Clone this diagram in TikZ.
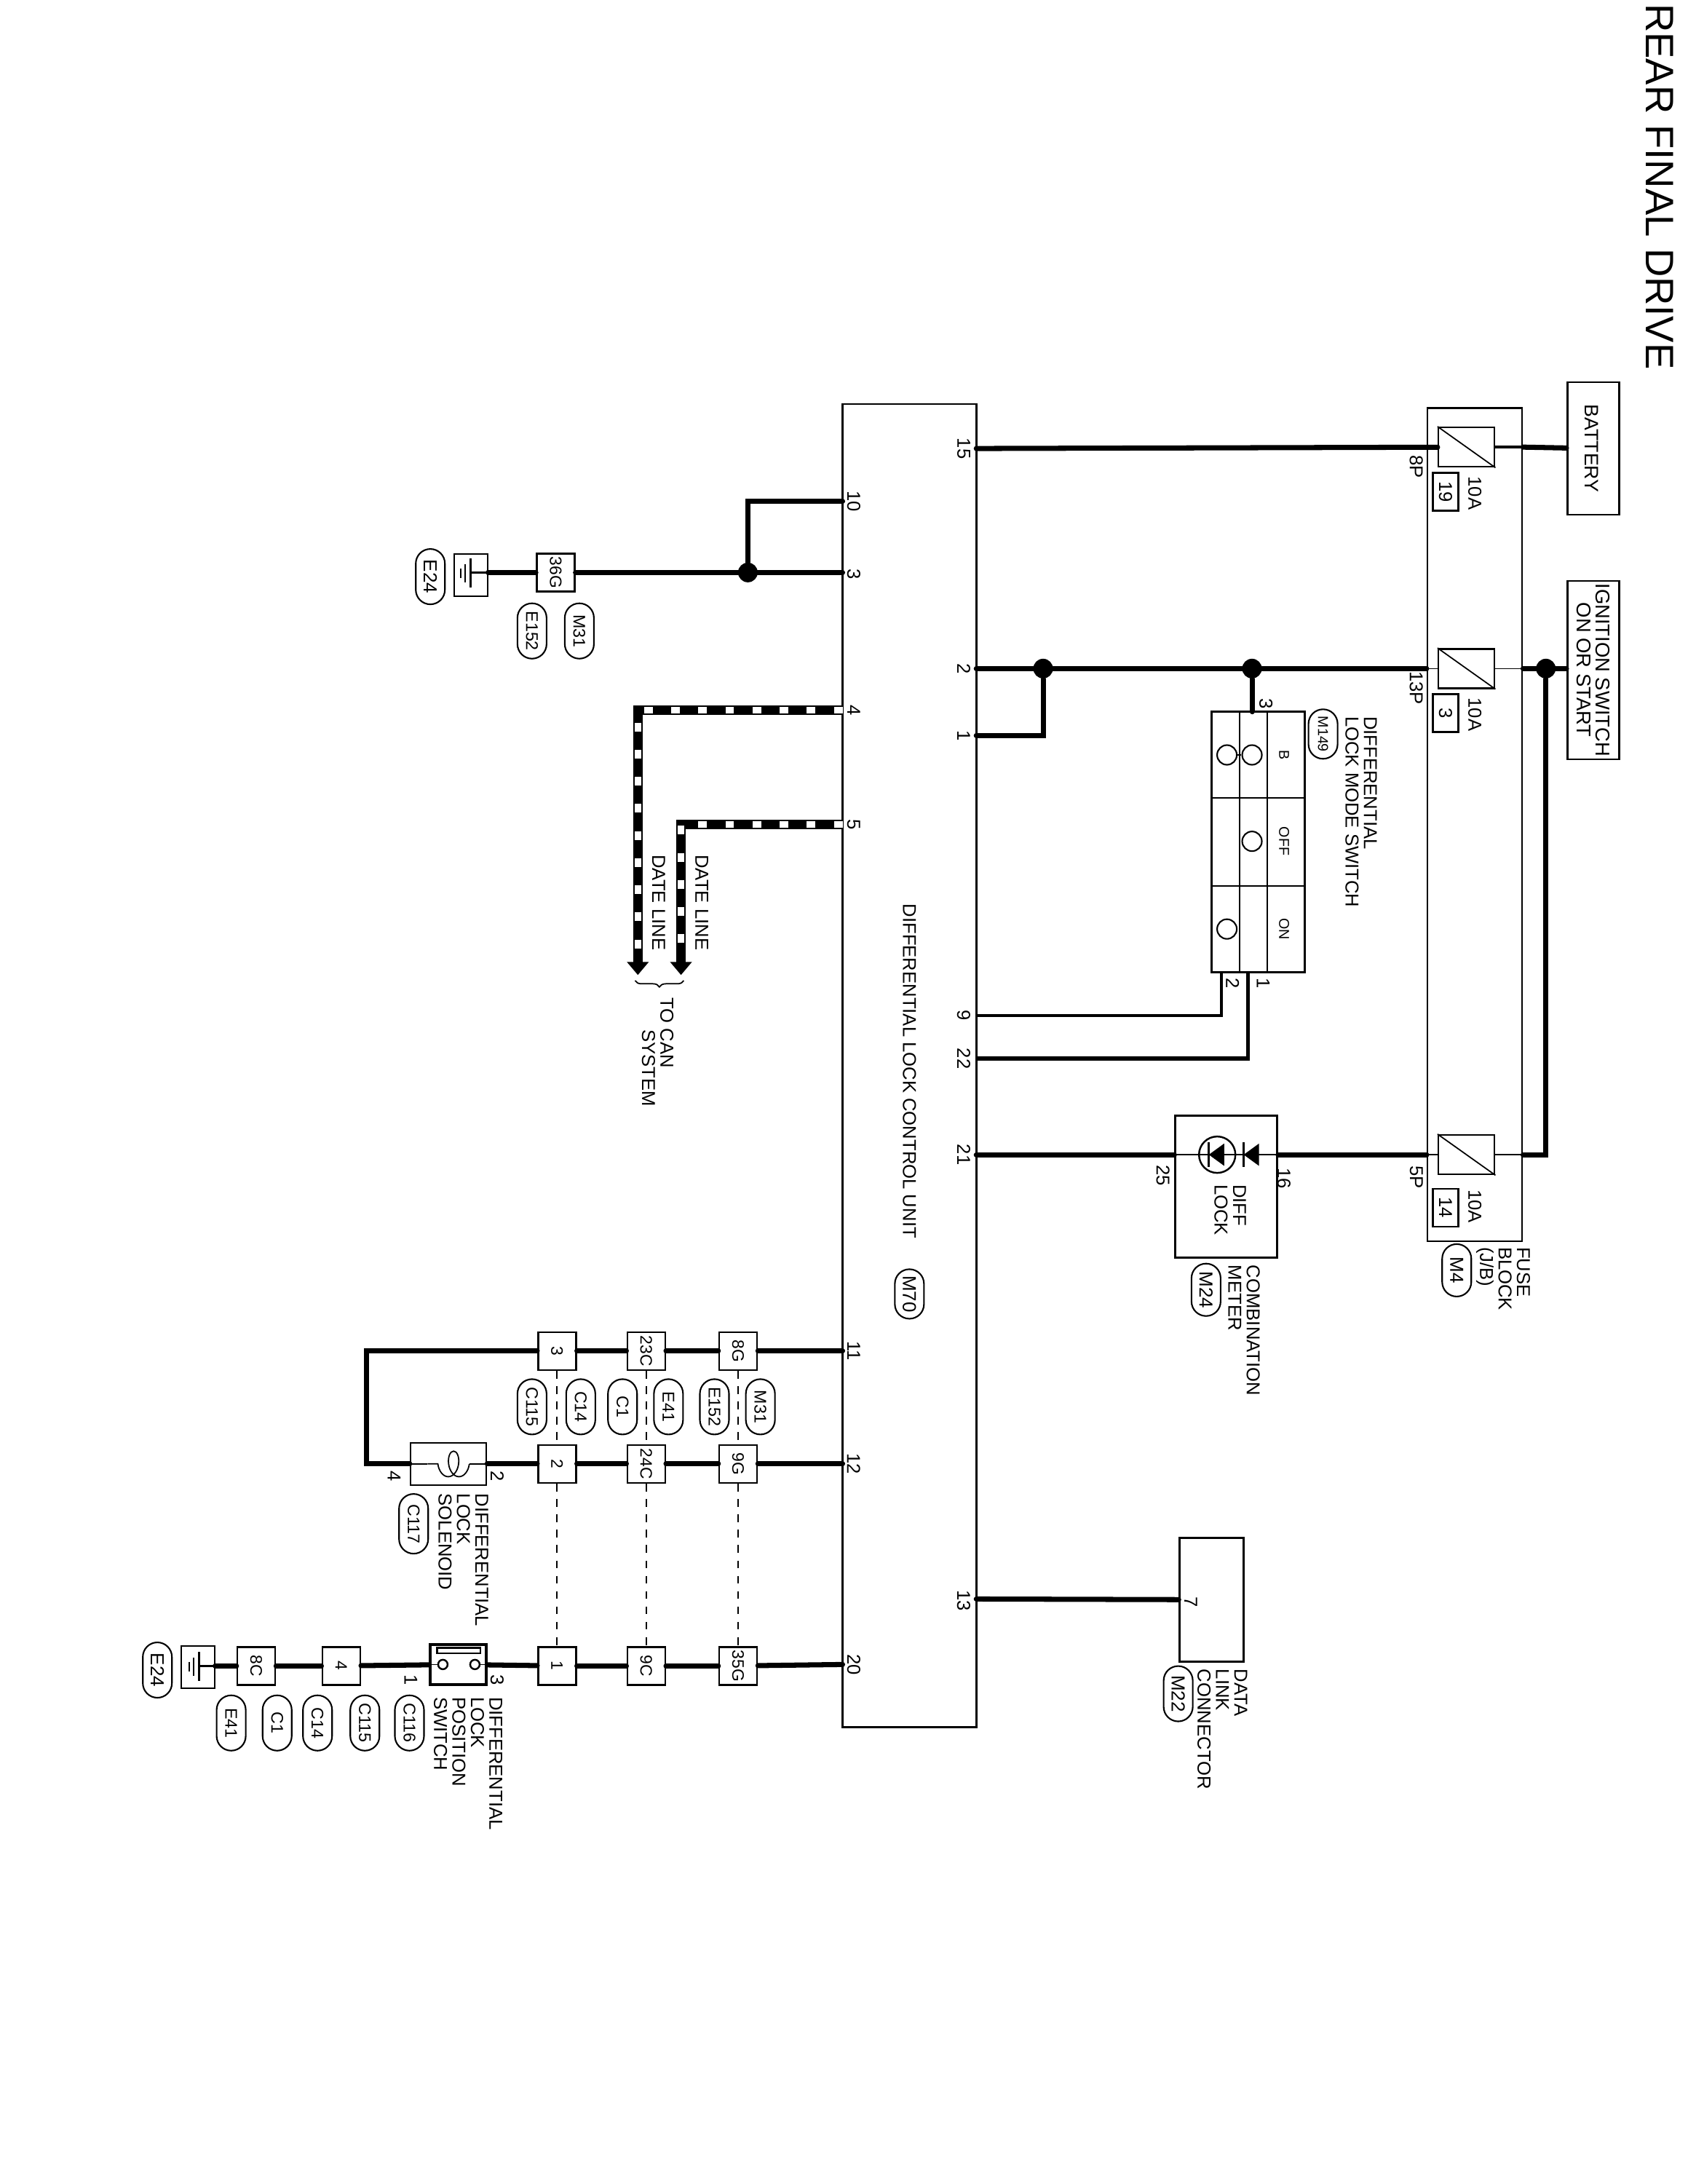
\documentclass[tikz,border=0pt]{standalone}
\usepackage{fontspec}
\setmainfont{Liberation Sans}
\usetikzlibrary{arrows.meta,shapes.misc,decorations.pathreplacing,decorations.pathmorphing}
\begin{document}
\begin{tikzpicture}[x=0.1913mm,y=-0.1913mm]
	\tikzstyle{lbl}=[rotate=-90,inner sep=0pt,font=\fontsize{7.3}{7.2}\selectfont,align=left]
	\tikzstyle{tiny}=[lbl,font=\fontsize{5.6}{6}\selectfont]
	\tikzstyle{conn}=[rectangle,draw=black,line width=0.7pt,fill=white,rotate=-90,inner sep=0pt,minimum size=0.52cm,font=\fontsize{6.5}{7}\selectfont]
	\tikzstyle{pill}=[rounded rectangle,draw=black,line width=0.6pt,fill=white,rotate=-90,inner sep=0pt,minimum width=0.76cm,minimum height=0.4cm,font=\fontsize{6.6}{7.2}\selectfont]
	\tikzstyle{pillbig}=[pill,font=\fontsize{7.4}{7.2}\selectfont]
	\tikzstyle{unit}=[rectangle,draw=black,line width=0.7pt,inner sep=0pt]
	\tikzstyle{fuse}=[unit,fill=white,minimum width=0.77cm,minimum height=0.54cm]
	\tikzstyle{fuseno}=[conn,minimum size=0pt,minimum width=0.52cm,minimum height=0.35cm,font=\fontsize{7.3}{7.2}\selectfont]
	\tikzstyle{wire}=[line width=2pt,line cap=round]
	\tikzstyle{thin}=[line width=0.5pt]
	\tikzstyle{link}=[line width=0.5pt,dashed]
	\tikzstyle{dot}=[circle,fill=black,inner sep=0pt,minimum size=0.27cm]
	\tikzstyle{canwire}=[line width=3.6pt,-{Triangle[length=0.18cm,width=0.29cm]}]
	\tikzstyle{candash}=[line width=2.6pt,white,dash pattern=on 3.4pt off 7.2pt,shorten >=0.2cm]
	\useasboundingbox (0,0) rectangle (1212,1568);

	\node[rotate=-90,inner sep=0pt,font=\fontsize{15.5}{16}\selectfont](title) at (1192,134) {REAR FINAL DRIVE};

	\node[unit,minimum width=1.84cm,minimum height=18.17cm](ecu) at (653,765) {};
	\node[unit,minimum width=1.3cm,minimum height=11.44cm](block) at (1059,592) {};
	\node[unit,minimum width=0.71cm,minimum height=1.82cm](battery) at (1144,322) {};
	\node[unit,minimum width=0.71cm,minimum height=2.45cm](ignition) at (1144,481) {};
	\node[lbl,font=\fontsize{7.6}{7.6}\selectfont](tbattery) at (1143,322) {BATTERY};
	\node[lbl,align=center,font=\fontsize{7.8}{7.6}\selectfont](tignition) at (1144,481) {IGNITION SWITCH\\ON OR START};

	\node[fuse](f19) at (1053,321) {};
	\node[fuse](f3) at (1053,480) {};
	\node[fuse](f14) at (1053,829) {};
	\draw[thin](f19.north west) -- (f19.south east);
	\draw[thin](f3.north west) -- (f3.south east);
	\draw[thin](f14.north west) -- (f14.south east);
	\node[fuseno](n19) at (1038,353) {19};
	\node[fuseno](n3) at (1038,512) {3};
	\node[fuseno](n14) at (1038,867) {14};
	\node[lbl](a19) at (1059,354) {10A};
	\node[lbl](a3) at (1059,513) {10A};
	\node[lbl](a14) at (1059,866) {10A};
	\node[lbl](t8p) at (1017,335) {8P};
	\node[lbl](t13p) at (1017,494) {13P};
	\node[lbl](t5p) at (1017,845) {5P};
	\node[lbl,anchor=north west](tblock) at (1099,895) {FUSE\\BLOCK\\(J/B)};
	\node[pillbig,minimum width=0.72cm](m4) at (1046,912) {M4};

	\coordinate (p15) at (701,322);
	\coordinate (p2) at (701,480);
	\coordinate (p1) at (701,528);
	\coordinate (p9) at (701,729);
	\coordinate (p22) at (701,760);
	\coordinate (p21) at (701,829);
	\coordinate (p13) at (701,1148);
	\coordinate (p10) at (605,360);
	\coordinate (p3) at (605,411);
	\coordinate (p4) at (605,510);
	\coordinate (p5) at (605,592);
	\coordinate (p11) at (605,970);
	\coordinate (p12) at (605,1051);
	\coordinate (p20) at (605,1195);
	\node[lbl](t15) at (692,322) {15};
	\node[lbl](t2) at (692,480) {2};
	\node[lbl](t1) at (692,528) {1};
	\node[lbl](t9) at (692,729) {9};
	\node[lbl](t22) at (692,760) {22};
	\node[lbl](t21) at (692,829) {21};
	\node[lbl](t13) at (692,1149) {13};
	\node[lbl](t10) at (613,360) {10};
	\node[lbl](t3) at (613,412) {3};
	\node[lbl](t4) at (613,510) {4};
	\node[lbl](t5) at (613,592) {5};
	\node[lbl](t11) at (613,970) {11};
	\node[lbl](t12) at (613,1051) {12};
	\node[lbl](t20) at (613,1195) {20};
	\node[lbl](tecu) at (653,769) {DIFFERENTIAL LOCK CONTROL UNIT};
	\node[pillbig,minimum width=0.68cm](m70) at (653,929) {M70};

	\draw[wire](p15) -- (f19);
	\draw[wire](f19 -| block.east) -- (battery);
	\draw[line width=1pt](f19) -- (f19 -| block.east);
	\draw[wire](p2) -- (f3 -| block.west);
	\draw[thin](f3 -| block.west) -- (f3);
	\draw[thin](f3) -- (f3 -| block.east);
	\draw[wire](f3 -| block.east) -- (ignition.west |- f3);
	\node[dot](d1) at (749,480) {};
	\node[dot](d2) at (899,480) {};
	\node[dot](d3) at (1110,480) {};
	\coordinate (c1) at (749,528);
	\coordinate (c2) at (1110,829);
	\draw[wire](d1) -- (c1) -- (p1);
	\draw[wire](d3) -- (c2) -- (f14 -| block.east);
	\draw[thin](f14 -| block.east) -- (f14);
	\draw[thin](f14) -- (f14 -| block.west);

	\node[unit,fill=white,minimum width=1.28cm,minimum height=3.58cm](mode) at (903.5,604.5) {};
	\node[lbl,anchor=north west](tmode) at (989,514) {DIFFERENTIAL\\LOCK MODE SWITCH};
	\node[pill,font=\fontsize{5.6}{6}\selectfont,minimum width=0.68cm](m149) at (950,527) {M149};
	\coordinate (s3) at (899,511);
	\coordinate (s1) at (896,698);
	\coordinate (s2) at (877,698);
	\coordinate (c3) at (896,760);
	\coordinate (c4) at (877,729);
	\draw[wire](d2) -- (s3);
	\draw[line width=1.5pt](s1) -- (c3) -- (p22);
	\draw[line width=1.2pt](s2) -- (c4) -- (p9);
	\coordinate (v1a) at (890,511);
	\coordinate (v1b) at (890,698);
	\coordinate (v2a) at (910,511);
	\coordinate (v2b) at (910,698);
	\coordinate (h1a) at (870,573);
	\coordinate (h1b) at (937,573);
	\coordinate (h2a) at (870,636);
	\coordinate (h2b) at (937,636);
	\draw[line width=0.6pt](v1a) -- (v1b);
	\draw[line width=0.6pt](v2a) -- (v2b);
	\draw[line width=0.6pt](h1a) -- (h1b);
	\draw[line width=0.6pt](h2a) -- (h2b);
	\node[circle,draw=black,inner sep=0pt,minimum size=0.27cm,line width=0.6pt](b1) at (881,542) {};
	\node[circle,draw=black,inner sep=0pt,minimum size=0.27cm,line width=0.6pt](b2) at (899,542) {};
	\node[circle,draw=black,inner sep=0pt,minimum size=0.27cm,line width=0.6pt](off) at (899,604) {};
	\node[circle,draw=black,inner sep=0pt,minimum size=0.27cm,line width=0.6pt](on) at (881,667) {};
	\draw[thin](b1) -- (b2);
	\node[tiny](tb) at (922,542) {B};
	\node[tiny](toff) at (922,604) {OFF};
	\node[tiny](ton) at (922,667) {ON};
	\node[lbl](ts3) at (909,505) {3};
	\node[lbl](ts1) at (907,706) {1};
	\node[lbl](ts2) at (885,706) {2};

	\node[unit,minimum width=1.4cm,minimum height=1.95cm](meter) at (880.5,852) {};
	\draw[wire](f14 -| block.west) -- (f14 -| meter.east);
	\draw[wire](f14 -| meter.west) -- (p21);
	\draw[thin](f14 -| meter.west) -- (f14 -| meter.east);
	\node[circle,draw=black,line width=0.7pt,fill=white,inner sep=0pt,minimum size=0.5cm](led) at (874,829) {};
	\coordinate (dm) at (899,829);
	\draw[thin](led.west) -- (dm);
	\fill(868,829) -- +(11,-8) -- +(11,8) -- cycle;
	\draw[line width=0.9pt](868,820) -- (868,838);
	\fill(893,829) -- +(11,-8) -- +(11,8) -- cycle;
	\draw[line width=0.9pt](893,820) -- (893,838);
	\node[lbl,anchor=north west](tlock) at (895,850) {DIFF\\LOCK};
	\node[lbl](t16) at (922,846) {16};
	\node[lbl](t25) at (835,844) {25};
	\node[lbl,anchor=north west](tmeter) at (905,908) {COMBINATION\\METER};
	\node[pillbig,minimum width=0.72cm](m24) at (866,926) {M24};

	\node[unit,minimum width=0.88cm,minimum height=1.7cm](dlc) at (870,1148.5) {};
	\draw[wire](p13) -- (dlc);
	\node[lbl](t7) at (855,1150) {7};
	\node[lbl,anchor=north west](tdlc) at (896,1198) {DATA\\LINK\\CONNECTOR};
	\node[pillbig](m22) at (846,1216) {M22};

	\node[dot](d4) at (537,411) {};
	\coordinate (c5) at (537,360);
	\node[conn](g36) at (399,411) {36G};
	\node[unit,line width=0.5pt,minimum width=0.46cm,minimum height=0.58cm](gnd1) at (338,413) {};
	\draw[wire](p10) -- (c5) -- (d4);
	\draw[wire](p3) -- (g36);
	\draw[wire](g36) -- (gnd1.east |- g36);
	\coordinate (e1) at (338,411);
	\draw[line width=0.9pt](gnd1.east |- g36) -- (e1);
	\draw[line width=0.9pt](338,401) -- (338,422);
	\draw[thin](334,405) -- (334,418);
	\draw[thin](331,408) -- (331,415);
	\node[pillbig](e24a) at (309,414) {E24};
	\node[pill](e152a) at (382,453) {E152};
	\node[pill](m31a) at (416,453) {M31};

	\coordinate (c6) at (458,510);
	\coordinate (c7) at (458,700);
	\coordinate (c8) at (489,592);
	\coordinate (c9) at (489,700);
	\draw[canwire](p4) -- (c6) -- (c7);
	\draw[canwire](p5) -- (c8) -- (c9);
	\draw[candash](p4) -- (c6) -- (c7);
	\draw[candash](p5) -- (c8) -- (c9);
	\node[lbl](tdl1) at (504,648) {DATE LINE};
	\node[lbl](tdl2) at (473,648) {DATE LINE};
	\coordinate (br1) at (491,704);
	\coordinate (br2) at (456,704);
	\draw[decorate,decoration={brace,amplitude=2.5pt},thin](br1) -- (br2);
	\node[lbl,anchor=north west](tcan) at (484,716) {TO CAN\\\hspace{1.7em}SYSTEM};

	\node[conn](g8) at (530,970) {8G};
	\node[conn](c23) at (464,970) {23C};
	\node[conn](k3) at (400,970) {3};
	\node[conn](g9) at (530,1051) {9G};
	\node[conn](c24) at (464,1051) {24C};
	\node[conn](k2) at (400,1051) {2};
	\node[conn](g35) at (530,1196) {35G};
	\node[conn](c9c) at (464,1196) {9C};
	\node[conn](k1) at (400,1196) {1};
	\node[unit,fill=white,minimum width=1.04cm,minimum height=0.58cm](sol) at (322,1051) {};
	\node[unit,fill=white,minimum width=0.77cm,minimum height=0.55cm,line width=1pt](lps) at (329,1195) {};
	\node[conn](k4) at (245,1196) {4};
	\node[conn](c8c) at (184,1196) {8C};
	\node[unit,line width=0.5pt,minimum width=0.46cm,minimum height=0.58cm](gnd2) at (142,1197) {};
	\coordinate (c10) at (263,970);
	\coordinate (c11) at (263,1051);
	\draw[wire](p11) -- (g8);
	\draw[wire](g8) -- (c23);
	\draw[wire](c23) -- (k3);
	\draw[wire](k3) -- (c10) -- (c11) -- (sol);
	\draw[wire](p12) -- (g9);
	\draw[wire](g9) -- (c24);
	\draw[wire](c24) -- (k2);
	\draw[wire](k2) -- (sol);
	\draw[wire](p20) -- (g35);
	\draw[wire](g35) -- (c9c);
	\draw[wire](c9c) -- (k1);
	\draw[wire](k1) -- (lps);
	\draw[wire](lps) -- (k4);
	\draw[wire](k4) -- (c8c);
	\draw[wire](c8c) -- (gnd2.east |- c8c);
	\draw[link](g8) -- (g9);
	\draw[link](c23) -- (c24);
	\draw[link](k3) -- (k2);
	\draw[link](g9) -- (g35);
	\draw[link](c24) -- (c9c);
	\draw[link](k2) -- (k1);

	\coordinate (coila) at (337,1051);
	\coordinate (coilb) at (307,1051);
	\draw[thin](sol.east) -- (coila);
	\draw[thin](coilb) -- (sol.west);
	\draw[thin,decorate,decoration={coil,aspect=0.6,segment length=4.2pt,amplitude=5pt}](coila) -- (coilb);
	\node[lbl](ts2b) at (357,1060) {2};
	\node[lbl](ts4) at (283,1060) {4};
	\node[lbl,anchor=north west](tsol) at (351,1072) {DIFFERENTIAL\\LOCK\\SOLENOID};
	\node[pill,minimum width=0.82cm](c117) at (297,1094) {C117};

	\node[pill](m31b) at (546,1010) {M31};
	\node[pill](e152b) at (513,1010) {E152};
	\node[pill](e41a) at (480,1010) {E41};
	\node[pill](c1a) at (447,1010) {C1};
	\node[pill](c14a) at (417,1010) {C14};
	\node[pill](c115a) at (382,1010) {C115};

	\node[circle,draw=black,fill=white,inner sep=0pt,minimum size=0.13cm,line width=0.7pt](sc1) at (341,1195) {};
	\node[circle,draw=black,fill=white,inner sep=0pt,minimum size=0.13cm,line width=0.7pt](sc2) at (318,1195) {};
	\draw[thin](lps.east |- sc1) -- (sc1);
	\draw[thin](sc2) -- (lps.west |- sc2);
	\draw[line width=0.8pt,fill=white](314,1183) rectangle (345,1187);
	\node[lbl](ts3b) at (357,1206) {3};
	\node[lbl](ts1b) at (295,1206) {1};
	\node[lbl,anchor=north west](tlps) at (361,1218) {DIFFERENTIAL\\LOCK\\POSITION\\SWITCH};
	\node[pill](c116) at (294,1237) {C116};
	\node[pill](c115b) at (262,1237) {C115};
	\node[pill](c14b) at (228,1237) {C14};
	\node[pill](c1b) at (199,1237) {C1};
	\node[pill](e41b) at (166,1237) {E41};

	\coordinate (e2) at (143,1196);
	\draw[line width=0.9pt](gnd2.east |- c8c) -- (e2);
	\draw[line width=0.9pt](143,1186) -- (143,1207);
	\draw[thin](139,1190) -- (139,1203);
	\draw[thin](136,1193) -- (136,1200);
	\node[pillbig](e24b) at (113,1199) {E24};
\end{tikzpicture}
\end{document}
